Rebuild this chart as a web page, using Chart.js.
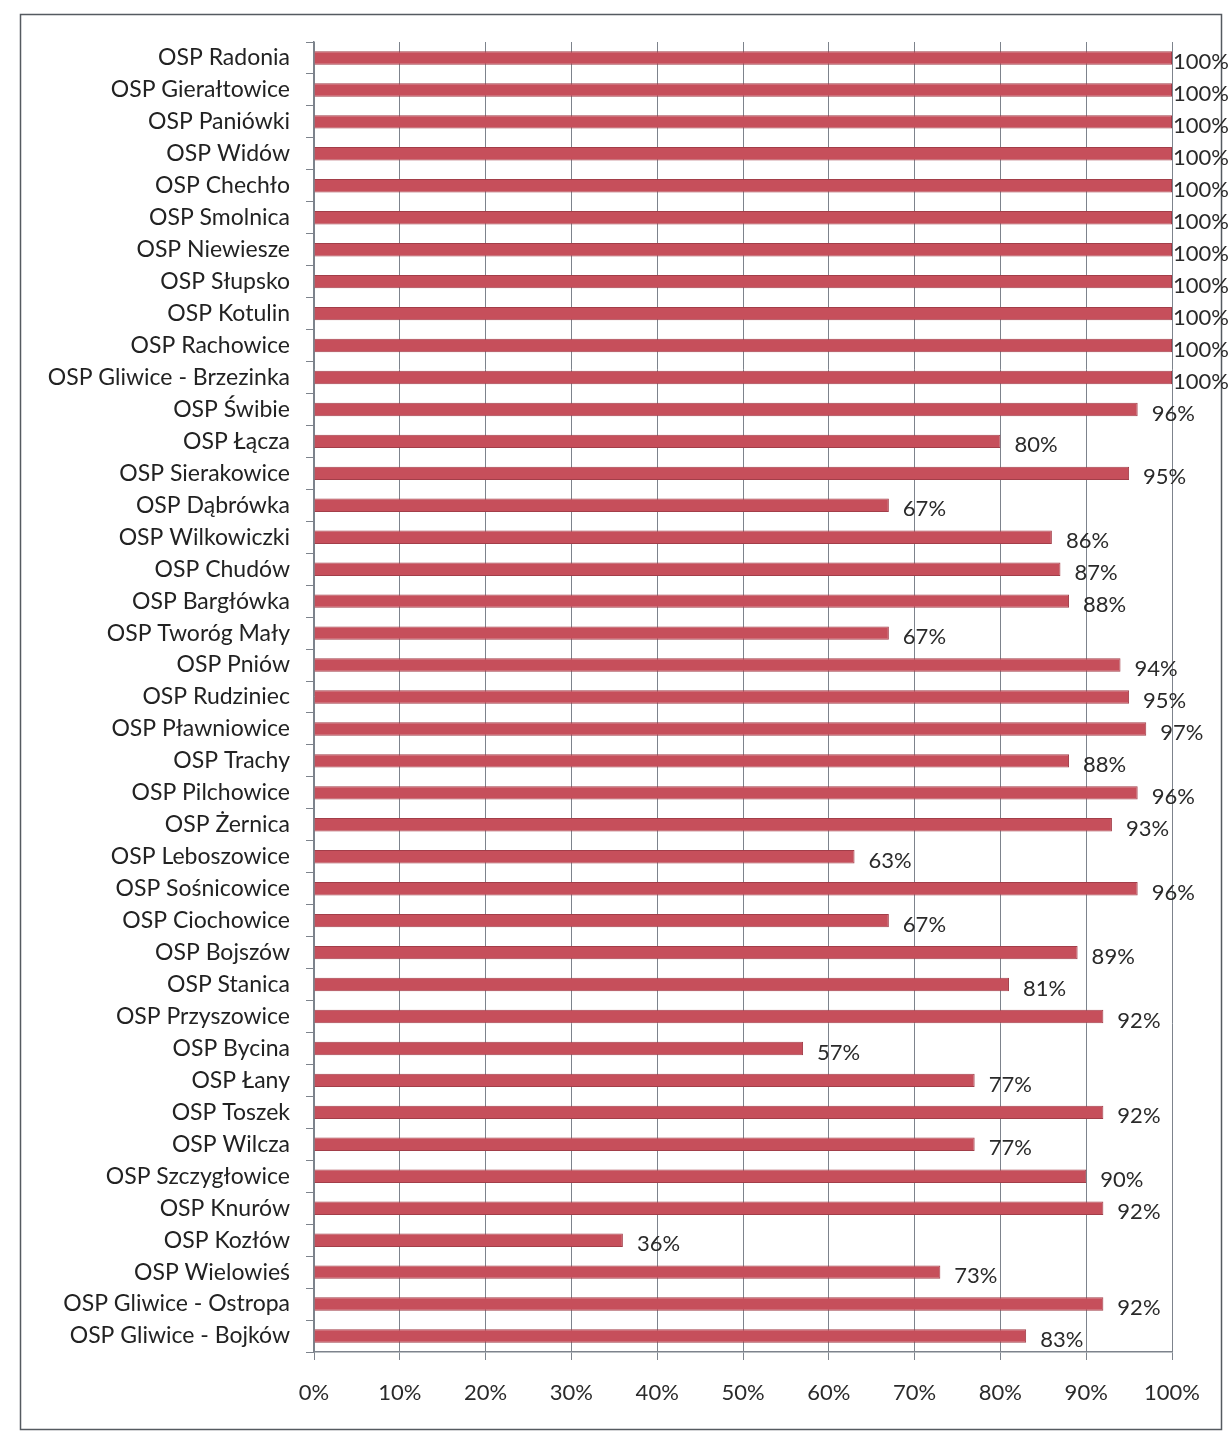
<!DOCTYPE html>
<html lang="pl">
<head>
    <meta charset="UTF-8">
    <title>OSP</title>
    <script src="https://cdn.jsdelivr.net/npm/chart.js"></script>
    <style>
        body {
            margin: 0;
            background: #ffffff;
        }
        .wrap {
            position: relative;
            width: 1232px;
            height: 1433px;
        }
    </style>
</head>
<body>
    <div class="wrap">
        <canvas id="chart"></canvas>
    </div>

    <script>
        // Chart data
        const units = [
            'OSP Radonia', 'OSP Gierałtowice', 'OSP Paniówki', 'OSP Widów', 'OSP Chechło',
            'OSP Smolnica', 'OSP Niewiesze', 'OSP Słupsko', 'OSP Kotulin', 'OSP Rachowice',
            'OSP Gliwice - Brzezinka', 'OSP Świbie', 'OSP Łącza', 'OSP Sierakowice', 'OSP Dąbrówka',
            'OSP Wilkowiczki', 'OSP Chudów', 'OSP Bargłówka', 'OSP Tworóg Mały', 'OSP Pniów',
            'OSP Rudziniec', 'OSP Pławniowice', 'OSP Trachy', 'OSP Pilchowice', 'OSP Żernica',
            'OSP Leboszowice', 'OSP Sośnicowice', 'OSP Ciochowice', 'OSP Bojszów', 'OSP Stanica',
            'OSP Przyszowice', 'OSP Bycina', 'OSP Łany', 'OSP Toszek', 'OSP Wilcza',
            'OSP Szczygłowice', 'OSP Knurów', 'OSP Kozłów', 'OSP Wielowieś', 'OSP Gliwice - Ostropa',
            'OSP Gliwice - Bojków'
        ];
        const percents = [
            100, 100, 100, 100, 100,
            100, 100, 100, 100, 100,
            100, 96, 80, 95, 67,
            86, 87, 88, 67, 94,
            95, 97, 88, 96, 93,
            63, 96, 67, 89, 81,
            92, 57, 77, 92, 77,
            90, 92, 36, 73, 92,
            83
        ];
        const xTicks = [0, 10, 20, 30, 40, 50, 60, 70, 80, 90, 100];

        const FONT = 'Lato, "Open Sans", sans-serif';

        // Outer frame of the chart
        const framePlugin = {
            id: 'frame',
            beforeDraw(chart) {
                const ctx = chart.ctx;
                ctx.save();
                ctx.fillStyle = '#ffffff';
                ctx.fillRect(0, 0, chart.width, chart.height);
                ctx.strokeStyle = '#555a60';
                ctx.lineWidth = 1.5;
                ctx.strokeRect(20.5, 14.5, 1201, 1415);
                ctx.restore();
            }
        };

        // Value labels at end of bars
        const valueLabels = {
            id: 'valueLabels',
            afterDatasetsDraw(chart) {
                const ctx = chart.ctx;
                const meta = chart.getDatasetMeta(0);
                ctx.save();
                ctx.font = '22px ' + FONT;
                ctx.fillStyle = '#2a2a2a';
                ctx.textBaseline = 'middle';
                ctx.textAlign = 'left';
                meta.data.forEach((bar, i) => {
                    const text = percents[i] + '%';
                    const w = ctx.measureText(text).width;
                    let x = bar.x + 14;
                    if (x + w > chart.width - 3) x = chart.width - 3 - w;
                    ctx.fillText(text, x, bar.y + 4);
                });
                ctx.restore();
            }
        };

        const ctx = document.getElementById('chart').getContext('2d');
        new Chart(ctx, {
            type: 'bar',
            data: {
                labels: units,
                datasets: [{
                    data: percents,
                    backgroundColor: '#c64f5b',
                    borderColor: '#a23e49',
                    borderWidth: 1,
                    categoryPercentage: 1,
                    barPercentage: 0.42
                }]
            },
            options: {
                indexAxis: 'y',
                responsive: true,
                maintainAspectRatio: false,
                animation: false,
                layout: {
                    padding: { left: 20, right: 60, top: 42, bottom: 20 }
                },
                scales: {
                    x: {
                        min: 0,
                        max: 100,
                        afterBuildTicks(scale) {
                            scale.ticks = xTicks.map(v => ({ value: v }));
                        },
                        afterFit(scale) {
                            scale.height = 61;
                        },
                        ticks: {
                            callback: v => v + '%',
                            font: { family: FONT, size: 22 },
                            color: '#2a2a2a',
                            padding: 20,
                            maxRotation: 0
                        },
                        grid: {
                            color: '#7d838c',
                            lineWidth: 1,
                            tickLength: 8
                        },
                        border: { color: '#7d838c', width: 1.5 }
                    },
                    y: {
                        afterFit(scale) {
                            scale.width = 294;
                        },
                        ticks: {
                            font: { family: FONT, size: 23 },
                            color: '#222222',
                            padding: 16,
                            autoSkip: false
                        },
                        grid: {
                            drawOnChartArea: false,
                            color: '#7d838c',
                            tickLength: 8
                        },
                        border: { color: '#7d838c', width: 1.5 }
                    }
                },
                plugins: {
                    legend: { display: false },
                    tooltip: { enabled: false }
                }
            },
            plugins: [framePlugin, valueLabels]
        });
    </script>
</body>
</html>
